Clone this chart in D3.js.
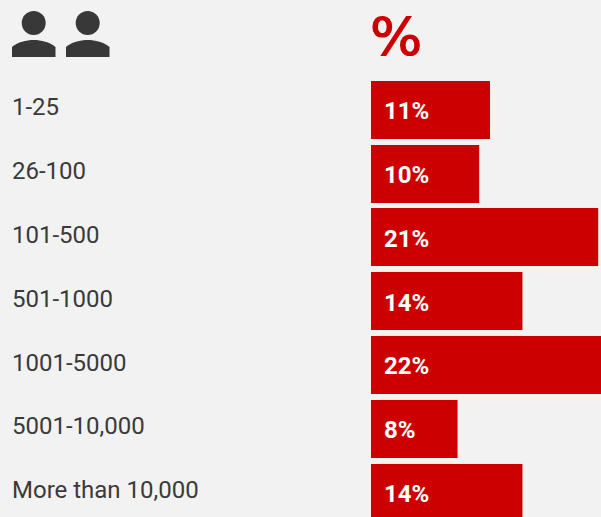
<!DOCTYPE html>
<html>
<head>
<meta charset="utf-8">
<script src="https://cdn.jsdelivr.net/npm/d3@7"></script>
<style>
html, body { margin: 0; padding: 0; background: #f2f2f2; overflow: hidden; }
svg { display: block; }
</style>
</head>
<body>
<div id="chart"></div>
<script>
// Company size bands and the share of respondents in each
const sizeBands = ["1-25", "26-100", "101-500", "501-1000", "1001-5000", "5001-10,000", "More than 10,000"];
const shares = [11, 10, 21, 14, 22, 8, 14];
const headerSymbol = "%";
const headerPeople = [0, 1];

const width = 601, height = 517;
const barLeft = 371;
const textDark = "#3a3a3a", red = "#cc0000";

const svg = d3.select("#chart").append("svg")
  .attr("width", width).attr("height", height);

const x = d3.scaleLinear().domain([0, 22]).range([barLeft, barLeft + 238]);
const y = d3.scaleBand().domain(sizeBands).range([81, 522]).paddingInner(0.0913).paddingOuter(0);

// Rows
svg.append("g").selectAll("rect").data(sizeBands).join("rect")
  .attr("x", x(0))
  .attr("y", d => Math.round(y(d) - 0.2))
  .attr("width", (d, i) => x(shares[i]) - x(0))
  .attr("height", 58)
  .attr("fill", red);

svg.append("g").selectAll("text").data(sizeBands).join("text")
  .attr("x", 384)
  .attr("y", d => y(d) + y.bandwidth() / 2 + 9)
  .attr("font-family", "Roboto")
  .attr("font-weight", 700)
  .attr("font-size", 24)
  .attr("fill", "#fff")
  .text((d, i) => shares[i] + "%");

// Category labels through a left axis with its line and ticks removed
const axis = svg.append("g").attr("transform", "translate(12,0)")
  .call(d3.axisLeft(y).tickSize(0).tickPadding(0));
axis.select(".domain").remove();
axis.selectAll("text")
  .attr("text-anchor", "start")
  .attr("x", 0)
  .attr("dy", null)
  .attr("y", 5.3)
  .attr("font-family", "Roboto")
  .attr("font-size", 24)
  .attr("fill", textDark);

// Header: two people and a percent sign
const person = svg.append("g").selectAll("g").data(headerPeople).join("g")
  .attr("transform", d => `translate(${12 + d * 54},11)`)
  .attr("fill", "#383838");
person.append("circle").attr("cx", 21.7).attr("cy", 12).attr("r", 12);
person.append("path").attr("d", "M0,46 V36 C6,31 14,29 21.7,29 C29.4,29 37.4,31 43.5,36 V46 Z");

svg.append("text")
  .attr("transform", "translate(370,55) scale(1.1,1.02)")
  .attr("font-family", "DejaVu Sans")
  .attr("font-size", 50)
  .attr("fill", red)
  .attr("stroke", red)
  .attr("stroke-width", 1.2)
  .text(headerSymbol);
</script>
</body>
</html>
